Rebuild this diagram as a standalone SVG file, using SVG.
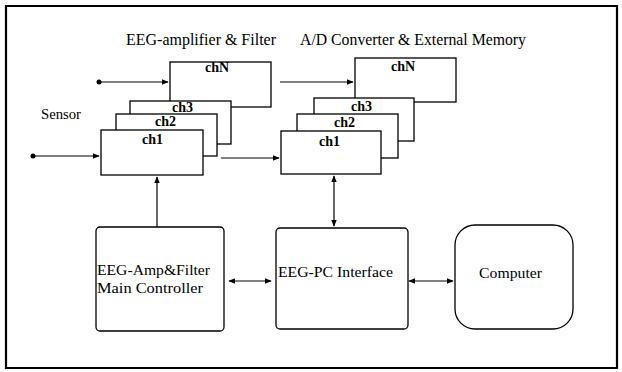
<svg xmlns="http://www.w3.org/2000/svg" width="622" height="372" viewBox="0 0 622 372">
<defs>
<marker id="ah" viewBox="0 0 10 10" refX="9" refY="5" markerWidth="7" markerHeight="7" orient="auto-start-reverse" markerUnits="userSpaceOnUse">
<path d="M0,1 L10,5 L0,9 Z" fill="#000"/>
</marker>
</defs>
<style>
.title{font-size:16px}
.lbl{font-size:15px}
.ch{font-size:14px;font-weight:bold}
.box{fill:#fff;stroke:#000;stroke-width:1.3}
.ln{stroke:#000;stroke-width:1.2;fill:none}
</style>
<rect width="622" height="372" fill="#fff"/>
<g id="frame">
<path d="M6,6 H617 V368 H6 Z" fill="none" stroke="#000" stroke-width="2.2"/>
</g>
<g font-family="Liberation Serif, DejaVu Serif, serif" fill="#000">
<text class="title" x="126" y="45" textLength="150" lengthAdjust="spacingAndGlyphs">EEG-amplifier &amp; Filter</text>
<text class="title" x="300" y="45" textLength="226" lengthAdjust="spacingAndGlyphs">A/D Converter &amp; External Memory</text>
<text class="lbl" x="41" y="119" textLength="40" lengthAdjust="spacingAndGlyphs">Sensor</text>

<g id="amp-chN"><rect class="box" x="170" y="62" width="101" height="45"/><text class="ch" x="205" y="72">chN</text></g>
<g id="amp-ch3"><rect class="box" x="130" y="101" width="101" height="43"/><text class="ch" x="172" y="112">ch3</text></g>
<g id="amp-ch2"><rect class="box" x="116" y="114" width="101" height="42"/><text class="ch" x="155" y="126">ch2</text></g>
<g id="amp-ch1"><rect class="box" x="101" y="130" width="102" height="45"/><text class="ch" x="142" y="144">ch1</text></g>

<g id="ad-chN"><rect class="box" x="355" y="58" width="101" height="44"/><text class="ch" x="391" y="71">chN</text></g>
<g id="ad-ch3"><rect class="box" x="314" y="98" width="100" height="43"/><text class="ch" x="351" y="111">ch3</text></g>
<g id="ad-ch2"><rect class="box" x="297" y="114" width="101" height="44"/><text class="ch" x="334" y="127">ch2</text></g>
<g id="ad-ch1"><rect class="box" x="281" y="131" width="100" height="43"/><text class="ch" x="319" y="146">ch1</text></g>

<g id="main-controller"><rect class="box" x="96" y="227" width="128" height="104" rx="4"/><text class="lbl" x="97" y="275" textLength="113" lengthAdjust="spacingAndGlyphs">EEG-Amp&amp;Filter</text><text class="lbl" x="97" y="293" textLength="106" lengthAdjust="spacingAndGlyphs">Main Controller</text></g>
<g id="eeg-pc"><rect class="box" x="276" y="228" width="132" height="101" rx="4"/><text class="lbl" x="278" y="277" textLength="115" lengthAdjust="spacingAndGlyphs">EEG-PC Interface</text></g>
<g id="computer"><rect class="box" x="455" y="225" width="118" height="104" rx="20"/><text class="lbl" x="479" y="278" textLength="63" lengthAdjust="spacingAndGlyphs">Computer</text></g>
</g>

<g id="connectors">
<circle cx="99" cy="82" r="2.5" fill="#000"/>
<line class="ln" x1="99" y1="82" x2="168" y2="82" marker-end="url(#ah)"/>
<circle cx="33" cy="156" r="2.5" fill="#000"/>
<line class="ln" x1="33" y1="156" x2="99" y2="156" marker-end="url(#ah)"/>
<line class="ln" x1="280" y1="82" x2="353" y2="82" marker-end="url(#ah)"/>
<line class="ln" x1="221" y1="158" x2="279" y2="158" marker-end="url(#ah)"/>
<line class="ln" x1="157" y1="227" x2="157" y2="177" marker-end="url(#ah)"/>
<line class="ln" x1="334" y1="176" x2="334" y2="226" marker-start="url(#ah)" marker-end="url(#ah)"/>
<line class="ln" x1="229" y1="281" x2="271" y2="281" marker-start="url(#ah)" marker-end="url(#ah)"/>
<line class="ln" x1="409" y1="281" x2="453" y2="281" marker-start="url(#ah)" marker-end="url(#ah)"/>
</g>
</svg>
